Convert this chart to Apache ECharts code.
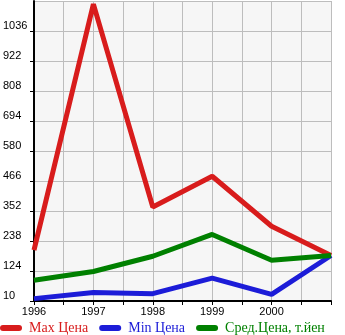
<!DOCTYPE html>
<html>
<head>
<meta charset="utf-8">
<script src="https://cdn.jsdelivr.net/npm/echarts@6/dist/echarts.min.js"></script>
<style>
  html, body { margin: 0; padding: 0; background: #ffffff; }
  #chart { width: 345px; height: 335px; }
</style>
</head>
<body>
<div id="chart"></div>
<script>
// Prices by year (thousand yen)
const years = [1996, 1997, 1998, 1999, 2000, 2001];
const maxPrice = [203, 1138, 367, 484, 294, 183];
const minPrice = [19, 42, 38, 97, 35, 183];
const avgPrice = [89, 122, 180, 263, 165, 183];

const seriesNames = ['Max Цена', 'Min Цена', 'Сред.Цена, т.йен'];
const seriesColors = ['#d81c1c', '#1c1cd8', '#008000'];

// Y axis range and step
const yMin = 10;
const yMax = 1150;
const yStep = 114;

const pairs = vals => years.map((y, i) => [y, vals[i]]);

const chart = echarts.init(document.getElementById('chart'), null, { renderer: 'canvas' });

const capsule = 'path://M3,0 L19,0 A3,3 0 0 1 19,6 L3,6 A3,3 0 0 1 3,0 Z';

chart.setOption({
  animation: false,
  backgroundColor: '#ffffff',
  grid: {
    left: 31, right: 14, top: 1, bottom: 34,
    show: true, backgroundColor: '#f6f6f6', borderWidth: 0
  },
  legend: {
    left: -5, bottom: -5,
    itemWidth: 22, itemHeight: 6, itemGap: 11,
    icon: capsule,
    textStyle: { fontFamily: 'Liberation Serif', fontSize: 14, padding: [0, 0, 0, 2] },
    data: seriesNames.map((n, i) => ({ name: n, textStyle: { color: seriesColors[i] } }))
  },
  xAxis: {
    type: 'value',
    min: years[0], max: years[years.length - 1], interval: 0.5,
    axisLine: { show: true, lineStyle: { color: '#000', width: 2 } },
    axisTick: { show: true, length: 4, lineStyle: { color: '#000', width: 1 } },
    splitLine: { show: true, lineStyle: { color: '#bdbdbd', width: 1 } },
    axisLabel: {
      margin: 5,
      color: '#000',
      fontFamily: 'Liberation Sans', fontSize: 11,
      formatter: v => (Number.isInteger(v) && v < years[years.length - 1]) ? String(v) : ''
    }
  },
  yAxis: {
    type: 'value',
    min: yMin, max: yMax, interval: yStep,
    axisLine: { show: true, lineStyle: { color: '#000', width: 2 } },
    axisTick: { show: true, length: 4, lineStyle: { color: '#000', width: 1 } },
    splitLine: { show: true, lineStyle: { color: '#bdbdbd', width: 1 } },
    axisLabel: {
      showMaxLabel: false,
      align: 'left', verticalAlign: 'bottom',
      margin: 31,
      color: '#000',
      fontFamily: 'Liberation Sans', fontSize: 11,
      formatter: v => String(v)
    }
  },
  series: [
    { name: seriesNames[0], type: 'line', data: pairs(maxPrice), showSymbol: false, z: 3,
      lineStyle: { color: seriesColors[0], width: 5 }, itemStyle: { color: seriesColors[0] } },
    { name: seriesNames[1], type: 'line', data: pairs(minPrice), showSymbol: false, z: 4,
      lineStyle: { color: seriesColors[1], width: 5 }, itemStyle: { color: seriesColors[1] } },
    { name: seriesNames[2], type: 'line', data: pairs(avgPrice), showSymbol: false, z: 5,
      lineStyle: { color: seriesColors[2], width: 5 }, itemStyle: { color: seriesColors[2] } }
  ]
});
</script>
</body>
</html>
